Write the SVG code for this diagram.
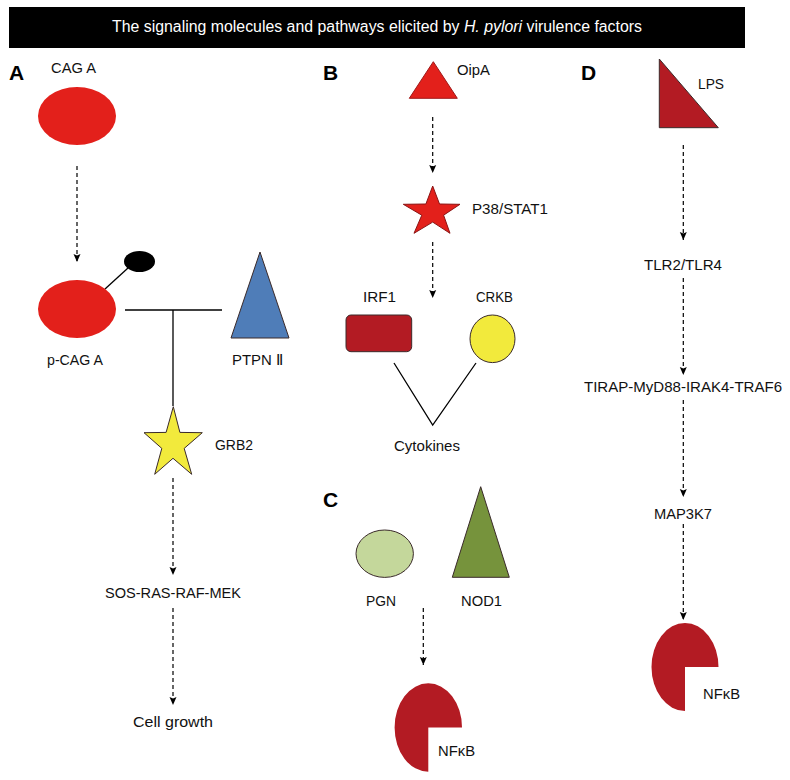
<svg xmlns="http://www.w3.org/2000/svg" width="790" height="780" viewBox="0 0 790 780">
<style>
.lbl{font-family:"Liberation Sans",Arial,sans-serif;font-size:15px;fill:#111}
.pnl{font-family:"Liberation Sans",Arial,sans-serif;font-size:21px;font-weight:bold;fill:#000}
.dash{stroke:#000;stroke-width:1.2;stroke-dasharray:4,3;fill:none;marker-end:url(#ah)}
.solid{stroke:#000;stroke-width:1.3;fill:none}
.ol{stroke:#3a2a2a;stroke-width:1}
</style>
<defs>
<marker id="ah" markerUnits="userSpaceOnUse" markerWidth="10" markerHeight="10" refX="8" refY="4" orient="auto">
<path d="M0,0.5 L8,4 L0,7.5 L1.5,4 Z" fill="#000"/>
</marker>
</defs>
<rect width="790" height="780" fill="#fff"/>
<g id="title">
<rect x="9" y="7" width="736" height="41" fill="#000"/>
<text x="377" y="32" text-anchor="middle" textLength="530" lengthAdjust="spacingAndGlyphs" style="font-family:'Liberation Sans',Arial,sans-serif;font-size:16px;fill:#fff">The signaling molecules and pathways elicited by <tspan font-style="italic">H. pylori</tspan> virulence factors</text>
</g>
<g id="panel-labels">
<text class="pnl" x="9" y="80">A</text>
<text class="pnl" x="323" y="80">B</text>
<text class="pnl" x="323" y="507">C</text>
<text class="pnl" x="581" y="80">D</text>
</g>
<g id="connectors">
<line class="dash" x1="77" y1="166" x2="77" y2="262"/>
<line class="solid" x1="105" y1="289" x2="128" y2="268"/>
<line class="solid" x1="125" y1="310" x2="222" y2="310"/>
<line class="solid" x1="173" y1="310" x2="173" y2="406"/>
<line class="dash" x1="173" y1="478" x2="173" y2="575"/>
<line class="dash" x1="173" y1="608" x2="173" y2="705"/>
<line class="dash" x1="432.7" y1="117" x2="432.7" y2="173"/>
<line class="dash" x1="432.7" y1="242" x2="432.7" y2="298"/>
<polyline class="solid" points="394,363 432.7,425 476,363"/>
<line class="dash" x1="423.3" y1="608" x2="423.3" y2="665"/>
<line class="dash" x1="683.3" y1="145" x2="683.3" y2="240"/>
<line class="dash" x1="683.3" y1="278" x2="683.3" y2="375"/>
<line class="dash" x1="683.3" y1="400" x2="683.3" y2="497"/>
<line class="dash" x1="683.3" y1="524" x2="683.3" y2="620"/>
</g>
<g id="cag-a">
<ellipse cx="77" cy="116" rx="39" ry="29" fill="#e3201b"/>
<text class="lbl" x="51" y="73" textLength="45" lengthAdjust="spacingAndGlyphs">CAG A</text>
</g>
<g id="p-cag-a">
<ellipse cx="77" cy="309" rx="39" ry="29" fill="#e3201b"/>
<ellipse cx="139.5" cy="261.5" rx="15.5" ry="10.5" fill="#000"/>
<text class="lbl" x="47" y="365" textLength="56" lengthAdjust="spacingAndGlyphs">p-CAG A</text>
</g>
<g id="ptpn">
<polygon class="ol" points="260,252 289,338 231,338" fill="#4f7db8"/>
<text class="lbl" x="232" y="365" textLength="51" lengthAdjust="spacingAndGlyphs">PTPN Ⅱ</text>
</g>
<g id="grb2">
<polygon class="ol" fill="#f2ea3c" points="173.3,406.7 179.9,432.4 202.3,432.7 184.2,448.4 191.7,474.3 173,458.3 154.7,474.3 161.8,448.4 144,432.7 166.1,432.4"/>
<text class="lbl" x="215" y="450" textLength="38" lengthAdjust="spacingAndGlyphs">GRB2</text>
</g>
<g id="sos">
<text class="lbl" x="105" y="598" textLength="136" lengthAdjust="spacingAndGlyphs">SOS-RAS-RAF-MEK</text>
</g>
<g id="cell-growth">
<text class="lbl" x="133" y="727" textLength="80" lengthAdjust="spacingAndGlyphs">Cell growth</text>
</g>
<g id="oipa">
<polygon points="433.3,61.7 457.3,98.3 409.3,98.3" fill="#e3201b" stroke="#a01818" stroke-width="1"/>
<text class="lbl" x="457" y="75" textLength="33" lengthAdjust="spacingAndGlyphs">OipA</text>
</g>
<g id="p38">
<polygon fill="#e3201b" stroke="#8a1414" stroke-width="1" points="432.7,186 439.5,204 460,204.3 443.6,215.2 450,233.3 432.7,222.1 414,233.3 421.8,215.2 403.3,204.3 425.9,204"/>
<text class="lbl" x="472" y="214" textLength="76" lengthAdjust="spacingAndGlyphs">P38/STAT1</text>
</g>
<g id="irf1">
<rect class="ol" x="346" y="315" width="65.7" height="36.7" rx="5" fill="#b31b23"/>
<text class="lbl" x="363" y="302" textLength="33" lengthAdjust="spacingAndGlyphs">IRF1</text>
</g>
<g id="crkb">
<ellipse class="ol" cx="492.5" cy="338.8" rx="22.5" ry="23.8" fill="#f2ea3c"/>
<text class="lbl" x="476" y="302" textLength="37" lengthAdjust="spacingAndGlyphs">CRKB</text>
</g>
<g id="cytokines">
<text class="lbl" x="394" y="451" textLength="66" lengthAdjust="spacingAndGlyphs">Cytokines</text>
</g>
<g id="pgn">
<ellipse class="ol" cx="384.7" cy="553.7" rx="28.7" ry="23.7" fill="#c4d79b"/>
<text class="lbl" x="366" y="606" textLength="30" lengthAdjust="spacingAndGlyphs">PGN</text>
</g>
<g id="nod1">
<polygon class="ol" points="480.7,486.7 509.3,577.3 452.3,577.3" fill="#76933c"/>
<text class="lbl" x="461" y="606" textLength="41" lengthAdjust="spacingAndGlyphs">NOD1</text>
</g>
<g id="nfkb-c">
<path d="M428.3,727.5 L462,727.5 A33.7,44.2 0 1 0 428.3,771.7 Z" fill="#b31b23"/>
<text class="lbl" x="438" y="756" textLength="37" lengthAdjust="spacingAndGlyphs">NFκB</text>
</g>
<g id="lps">
<polygon class="ol" points="659.3,59 659.3,127.7 718.3,127.7" fill="#b31b23"/>
<text class="lbl" x="698" y="89" textLength="26" lengthAdjust="spacingAndGlyphs">LPS</text>
</g>
<g id="tlr">
<text class="lbl" x="644" y="270" textLength="78" lengthAdjust="spacingAndGlyphs">TLR2/TLR4</text>
</g>
<g id="tirap">
<text class="lbl" x="584" y="392" textLength="198" lengthAdjust="spacingAndGlyphs">TIRAP-MyD88-IRAK4-TRAF6</text>
</g>
<g id="map3k7">
<text class="lbl" x="654" y="519" textLength="58" lengthAdjust="spacingAndGlyphs">MAP3K7</text>
</g>
<g id="nfkb-d">
<path d="M685,667 L718.5,667 A33.5,44 0 1 0 685,711 Z" fill="#b31b23"/>
<text class="lbl" x="703" y="699" textLength="37" lengthAdjust="spacingAndGlyphs">NFκB</text>
</g>
</svg>
